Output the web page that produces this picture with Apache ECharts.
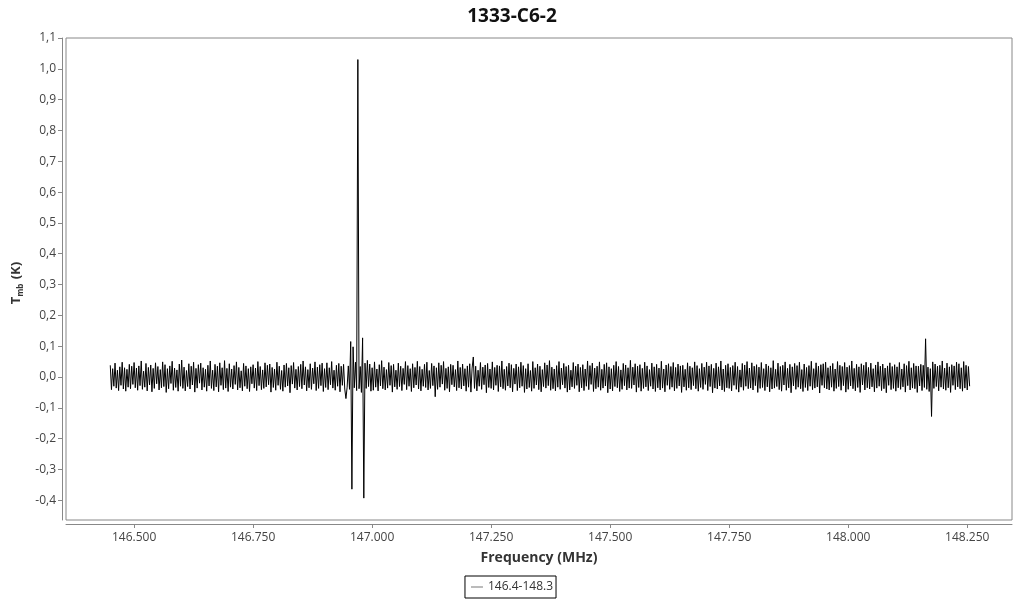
<!DOCTYPE html>
<html>
<head>
<meta charset="utf-8">
<script src="https://cdn.jsdelivr.net/npm/echarts@6/dist/echarts.min.js"></script>
<style>html,body{margin:0;padding:0;background:#fff}#c{width:1024px;height:600px}</style>
</head>
<body>
<div id="c"></div>
<script>
// Spectrum channels: start frequency (MHz) and channel width (MHz)
const startFreqMHz = 146.45;
const channelMHz = 0.0025;
// Tmb values, in mK (one per channel)
const tmbMilliK = [
  38,-41,27,-30,45,-36,22,-44,33,-27,48,-39,30,-46,25,-33,41,-38,35,-24,
  47,-35,29,-43,36,-28,52,-40,19,-33,44,-45,31,-26,39,-48,28,-37,46,-22,
  34,-42,24,-35,49,-31,40,-50,27,-38,36,-21,51,-43,29,-34,23,-46,42,-30,
  55,-37,32,-45,21,-31,43,-39,35,-26,48,-49,28,-36,40,-20,45,-42,30,-33,
  25,-46,38,-29,52,-37,22,-44,41,-32,35,-48,46,-27,30,-41,53,-36,28,-47,
  43,-33,26,-39,37,-24,49,-42,31,-35,20,-45,44,-30,36,-38,27,-47,33,-22,
  40,-36,29,-44,50,-28,34,-41,23,-37,46,-32,38,-25,42,-49,31,-34,26,-43,
  48,-27,35,-40,21,-46,39,-33,44,-29,30,-51,37,-23,47,-36,25,-42,34,-31,
  41,-38,52,-26,33,-45,24,-35,43,-40,29,-22,49,-44,32,-37,40,-28,45,-47,
  27,-34,46,-41,30,-25,50,-36,22,-43,38,-30,44,-48,35,-27,41,-39,-70,-33,
  36,-40,115,-364,98,-35,48,-44,1030,-38,34,-50,127,-393,45,-37,54,-31,42,-46,
  30,-43,49,-33,26,-45,40,-29,53,-38,32,-42,24,-36,47,-27,37,-49,41,-32,
  22,-40,45,-31,35,-44,28,-24,50,-41,37,-30,27,-47,43,-35,31,-26,51,-39,
  34,-45,25,-30,41,-34,48,-42,21,-37,44,-28,36,-64,30,-40,46,-33,38,-23,
  50,-43,28,-37,33,-48,41,-25,38,-32,24,-44,52,-35,31,-39,42,-29,27,-46,
  36,-33,43,-49,29,65,-37,35,-45,22,-30,47,-40,32,-25,39,-51,44,-34,26,
  -37,49,-42,31,-27,38,-47,36,-32,52,-38,25,-43,34,-29,45,-35,40,-48,28,
  -23,42,-44,33,-35,48,-30,37,-50,27,-39,43,-34,21,-46,50,-37,30,-26,42,
  -41,35,-48,24,-31,46,-36,39,-28,53,-43,32,-38,26,-45,37,-33,50,-40,29,
  -25,44,-36,34,-49,38,-42,22,-32,47,-37,35,-27,42,-48,31,-35,40,-44,26,
  -30,52,-41,37,-24,45,-47,29,-38,35,-33,49,-43,25,-36,41,-29,46,-51,33,
  -39,27,-45,38,-31,50,-35,34,-47,23,-40,44,-28,39,-42,30,-36,54,-37,32,
  -26,43,-49,35,-34,40,-46,28,-37,48,-32,36,-44,24,-30,45,-39,33,-47,41,
  -35,29,-42,51,-36,26,-48,39,-27,43,-40,34,-33,47,-45,31,-37,42,-29,36,
  -50,38,-32,25,-43,46,-35,35,-41,30,-28,49,-38,37,-46,27,-34,44,-40,32,
  -24,48,-44,36,-31,41,-51,28,-36,45,-39,33,-29,52,-42,26,-47,38,-35,43,
  -37,31,-45,37,-27,48,-40,34,-49,23,-33,44,-43,39,-30,50,-38,29,-36,46,
  -42,35,-28,40,-50,32,-37,47,-34,27,-44,42,-32,36,-48,30,-39,53,-36,25,
  -31,45,-41,34,-46,38,-26,49,-43,28,-35,41,-51,33,-29,44,-40,37,-33,48,
  -38,24,-47,42,-34,31,-44,37,-30,51,-41,27,-36,46,-32,35,-52,40,-27,43,
  -35,48,-39,30,-42,36,-33,44,-46,26,-37,50,-31,38,-43,34,-28,47,-49,32,
  -40,37,-29,52,-38,28,-45,41,-34,33,-50,43,-26,38,-42,48,-35,31,-39,45,
  -32,27,-48,39,-36,49,-30,35,-44,42,-38,29,-51,36,-27,46,-41,34,-37,40,
  -46,33,-35,47,-40,26,-32,43,-49,37,-28,51,-42,30,-36,44,-38,36,-50,35,
  -29,41,-44,38,-34,124,-40,32,-47,27,-128,49,-37,42,-31,35,-45,38,-33,52,
  -39,29,-43,45,-35,33,-50,40,-27,36,-41,48,-32,43,-38,30,-46,50,-36,38,
  -42,34,-30
];
const seriesName = '146.4-148.3';
const xTicks = [146.5, 146.75, 147.0, 147.25, 147.5, 147.75, 148.0, 148.25];
const yTicks = [-0.4,-0.3,-0.2,-0.1,0.0,0.1,0.2,0.3,0.4,0.5,0.6,0.7,0.8,0.9,1.0,1.1];

const data = tmbMilliK.map((v, i) => [startFreqMHz + i * channelMHz, v / 1000]);

const chart = echarts.init(document.getElementById('c'), null, {renderer: 'canvas'});
const FONT = 'Open Sans';
chart.setOption({
  animation: false,
  backgroundColor: '#fff',
  textStyle: {fontFamily: FONT},
  title: {
    text: '1333-C6-2', left: 'center', top: 2,
    textStyle: {fontFamily: FONT, fontWeight: 'bold', fontSize: 19, color: '#111'}
  },
  grid: {
    left: 66, right: 12, top: 38, bottom: 80,
    show: true, borderColor: '#888', borderWidth: 1, backgroundColor: 'transparent'
  },
  legend: {
    top: 576, left: 'center',
    data: [{name: seriesName, icon: 'rect'}],
    borderColor: '#000', borderWidth: 1, borderRadius: 0,
    padding: [4, 3, 4, 6],
    itemWidth: 12, itemHeight: 1, itemGap: 4,
    itemStyle: {color: '#777'},
    lineStyle: {color: '#777', width: 1},
    textStyle: {fontFamily: FONT, fontSize: 12, color: '#333', lineHeight: 14}
  },
  xAxis: {
    type: 'value', min: 146.357, max: 148.344, offset: 4,
    name: 'Frequency (MHz)', nameLocation: 'middle', nameGap: 27,
    nameTextStyle: {fontFamily: FONT, fontWeight: 'bold', fontSize: 14, color: '#333'},
    axisLine: {show: true, onZero: false, lineStyle: {color: '#888'}},
    axisTick: {show: true, length: 4, lineStyle: {color: '#888'}, customValues: xTicks},
    axisLabel: {color: '#444', fontSize: 12, margin: 8, customValues: xTicks,
      formatter: v => v.toFixed(3)},
    splitLine: {show: false}
  },
  yAxis: {
    type: 'value', min: -0.464, max: 1.1, offset: 4,
    name: '{t|T}{s|mb}{t| (K)}', nameLocation: 'middle', nameGap: 25, nameRotate: 90,
    nameTextStyle: {
      padding: [0, 8, 0, 0],
      rich: {
        t: {fontFamily: FONT, fontWeight: 'bold', fontSize: 13, color: '#333'},
        s: {fontFamily: FONT, fontWeight: 'bold', fontSize: 8, color: '#333', padding: [8, 1, 0, 0]}
      }
    },
    axisLine: {show: true, onZero: false, lineStyle: {color: '#888'}},
    axisTick: {show: true, length: 4, lineStyle: {color: '#888'}, customValues: yTicks},
    axisLabel: {color: '#444', fontSize: 12, margin: 6, customValues: yTicks,
      formatter: v => v.toFixed(1).replace('.', ',')},
    splitLine: {show: false}
  },
  series: [{
    name: seriesName, type: 'line', data: data,
    showSymbol: false, symbol: 'none', sampling: null,
    lineStyle: {color: '#000', width: 1},
    itemStyle: {color: '#000'},
    emphasis: {disabled: true}
  }]
});
</script>
</body>
</html>
